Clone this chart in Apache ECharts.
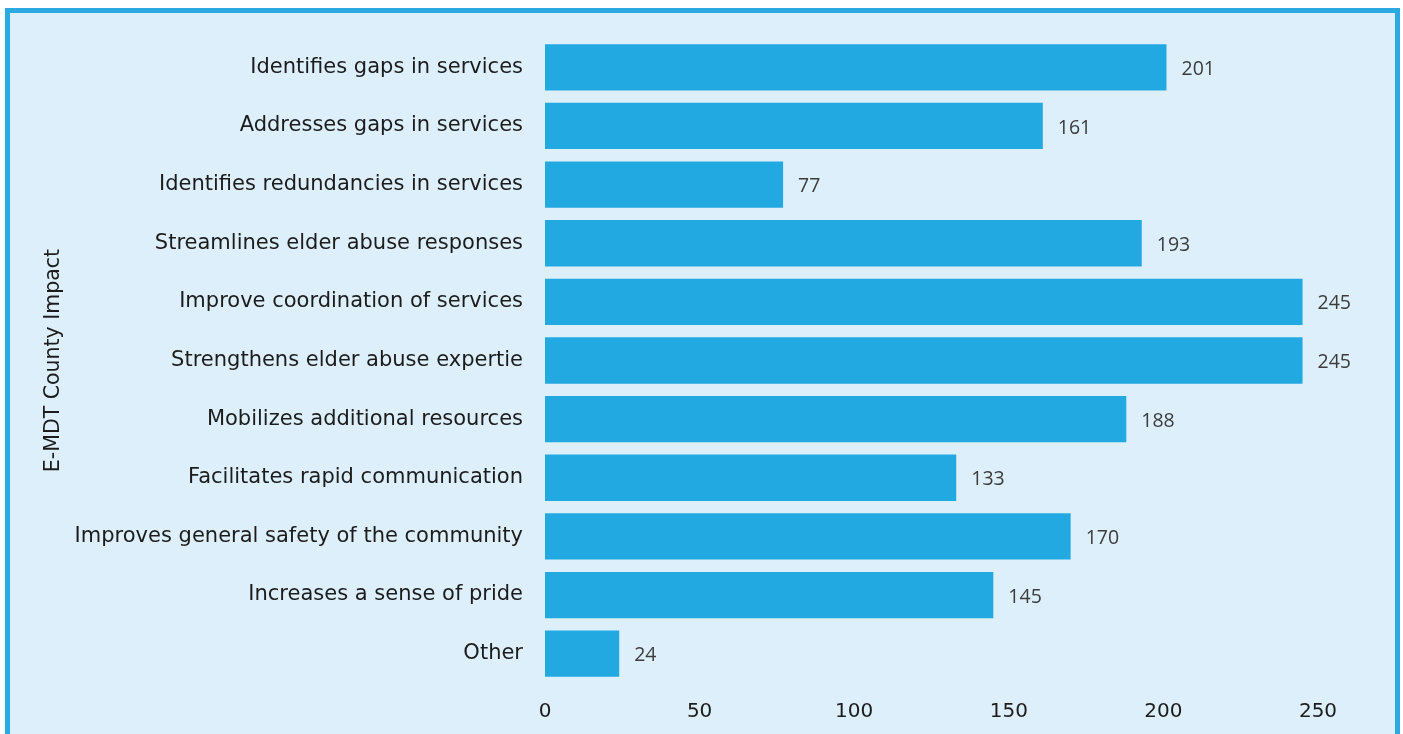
<!DOCTYPE html>
<html>
<head>
<meta charset="utf-8">
<script src="https://cdn.jsdelivr.net/npm/echarts@6/dist/echarts.min.js"></script>
<style>
  html, body { margin: 0; padding: 0; background: #ffffff; }
  #chart { width: 1403px; height: 734px; }
</style>
</head>
<body>
<div id="chart"></div>
<script>
// Reported impacts of E-MDT teams on their counties
const categories = [
  'Identifies gaps in services',
  'Addresses gaps in services',
  'Identifies redundancies in services',
  'Streamlines elder abuse responses',
  'Improve coordination of services',
  'Strengthens elder abuse expertie',
  'Mobilizes additional resources',
  'Facilitates rapid communication',
  'Improves general safety of the community',
  'Increases a sense of pride',
  'Other'
];
const counts = [201, 161, 77, 193, 245, 245, 188, 133, 170, 145, 24];
const axisTitle = 'E-MDT County Impact';

const chart = echarts.init(document.getElementById('chart'), null, { renderer: 'canvas' });

const textFont = 'DejaVu Sans';
const textColor = '#1c1c1c';

chart.setOption({
  backgroundColor: '#ffffff',
  animation: false,
  graphic: [{
    type: 'rect',
    z: -10,
    silent: true,
    shape: { x: 7.5, y: 10.5, width: 1390, height: 780 },
    style: { fill: '#DCEFFA', stroke: '#2AAAE1', lineWidth: 5 }
  }],
  grid: { left: 545, right: 85, top: 38, bottom: 51, containLabel: false },
  xAxis: {
    type: 'value',
    min: 0,
    max: 250,
    interval: 50,
    axisLine: { show: false },
    axisTick: { show: false },
    splitLine: { show: false },
    axisLabel: {
      margin: 19,
      color: textColor,
      fontFamily: textFont,
      fontSize: 20
    }
  },
  yAxis: {
    type: 'category',
    data: categories,
    inverse: true,
    name: axisTitle,
    nameLocation: 'middle',
    nameGap: 478,
    nameRotate: 90,
    nameTextStyle: { color: textColor, fontFamily: textFont, fontSize: 20.5 },
    axisLine: { show: false },
    axisTick: { show: false },
    axisLabel: {
      margin: 22,
      color: textColor,
      fontFamily: textFont,
      fontSize: 21
    }
  },
  series: [{
    type: 'bar',
    data: counts,
    barCategoryGap: '21%',
    itemStyle: { color: '#23A9E1' },
    label: {
      show: true,
      position: 'right',
      distance: 15,
      color: '#3c3c3c',
      fontFamily: 'Open Sans',
      fontSize: 19.5,
      offset: [0, 2]
    }
  }]
});
</script>
</body>
</html>
